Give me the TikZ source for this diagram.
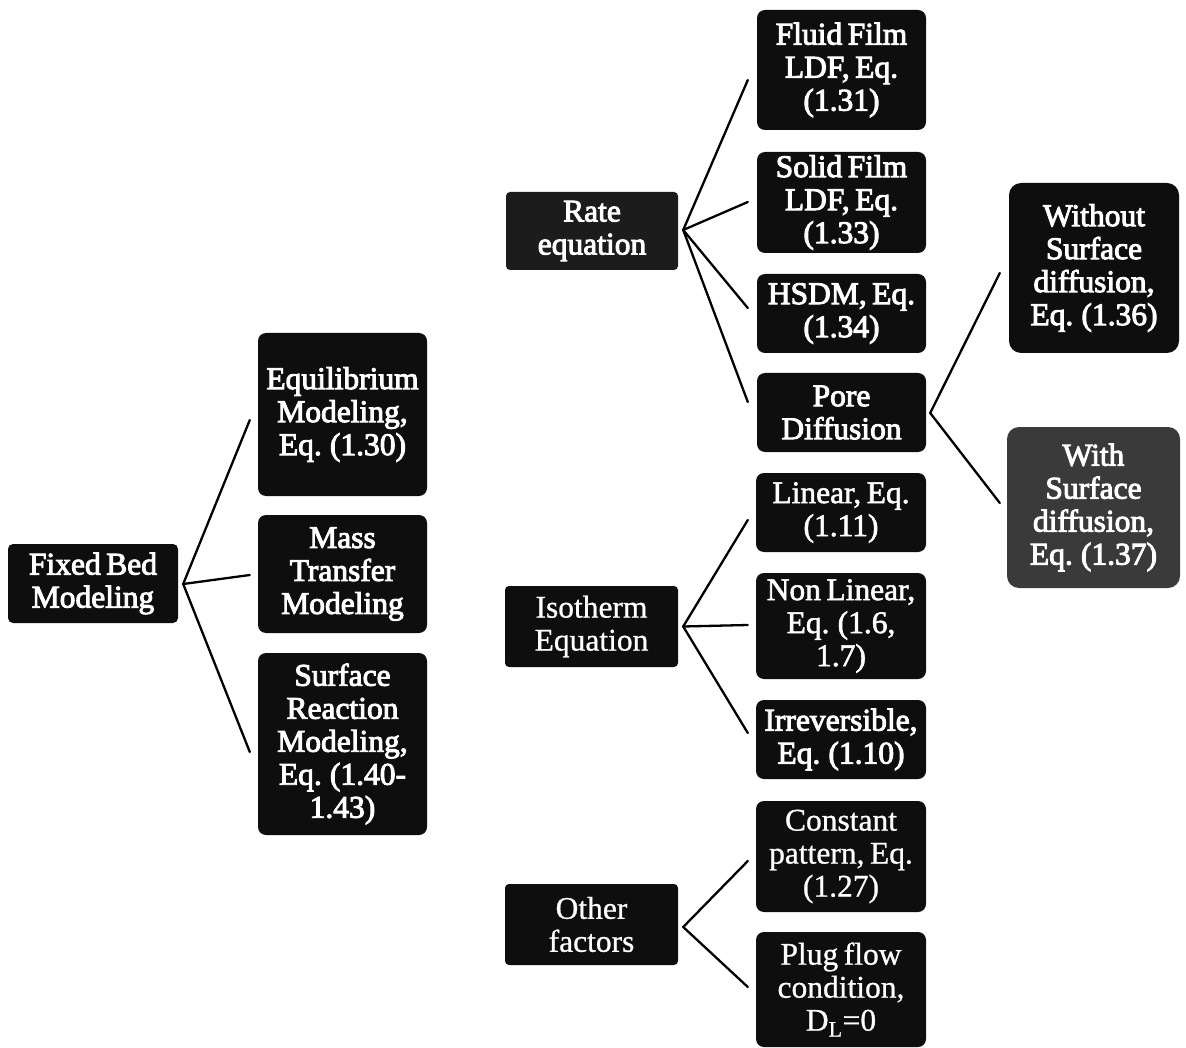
\documentclass[tikz,border=0pt]{standalone}
\usepackage{fontspec}
\setmainfont[WordSpace=0.7,FakeBold=0.8]{Liberation Serif}
\newfontfamily\heavy[WordSpace=0.7,FakeBold=3]{Liberation Serif}
\newfontfamily\medium[WordSpace=0.7,FakeBold=1.8]{Liberation Serif}
\usetikzlibrary{calc}
\definecolor{boxblack}{HTML}{0E0E0E}
\definecolor{boxrate}{HTML}{1C1C1C}
\definecolor{boxgrey}{HTML}{3A3A3A}
\tikzset{
  box/.style={fill=boxblack, text=white, align=center, inner sep=0pt,
    rounded corners=8pt, font=\fontsize{31.5}{33}\selectfont},
  sqbox/.style={box, rounded corners=4pt},
  link/.style={draw=black, line width=2.3pt, line cap=round},
}
\begin{document}
\begin{tikzpicture}[x=1pt,y=-1pt]
\useasboundingbox (0,0) rectangle (1186,1048);
% left column
\node[box, rounded corners=5pt, minimum width=170pt, minimum height=79pt] (fixed) at (93,583.5) {\heavy Fixed Bed\\\heavy Modeling};
\node[box, minimum width=169pt, minimum height=163pt] (equil) at (342.5,414.5) {\heavy Equilibrium\\\heavy Modeling,\\\heavy Eq. (1.30)};
\node[box, minimum width=169pt, minimum height=118pt] (mass) at (342.5,574) {\heavy Mass\\\heavy Transfer\\\heavy Modeling};
\node[box, minimum width=169pt, minimum height=182pt] (surf) at (342.5,744) {\heavy Surface\\\heavy Reaction\\\heavy Modeling,\\\heavy Eq. (1.40-\\\heavy 1.43)};
% middle column
\node[sqbox, fill=boxrate, minimum width=172pt, minimum height=78pt] (rate) at (592,231) {\heavy Rate\\\heavy equation};
\node[sqbox, minimum width=173pt, minimum height=81pt] (iso) at (591.5,626.5) {Isotherm\\Equation};
\node[sqbox, minimum width=173pt, minimum height=81pt] (other) at (591.5,924.5) {Other\\factors};
% right column
\node[box, minimum width=169pt, minimum height=120pt] (fluid) at (841.5,70) {\heavy Fluid Film\\\heavy LDF, Eq.\\\heavy (1.31)};
\node[box, minimum width=169pt, minimum height=101pt] (solid) at (841.5,202.5) {\heavy Solid Film\\\heavy LDF, Eq.\\\heavy (1.33)};
\node[box, minimum width=169pt, minimum height=79pt] (hsdm) at (841.5,313.5) {\heavy HSDM, Eq.\\\heavy (1.34)};
\node[box, minimum width=169pt, minimum height=79pt] (pore) at (841.5,412.5) {\heavy Pore\\\heavy Diffusion};
\node[box, minimum width=170pt, minimum height=79pt] (linear) at (841,512.5) {\medium Linear, Eq.\\\medium (1.11)};
\node[box, minimum width=170pt, minimum height=106pt] (nonlin) at (841,626) {\medium Non Linear,\\\medium Eq. (1.6,\\\medium 1.7)};
\node[box, minimum width=170pt, minimum height=79pt] (irrev) at (841,739.5) {\heavy Irreversible,\\\heavy Eq. (1.10)};
\node[box, minimum width=170pt, minimum height=111pt] (const) at (841,856.5) {Constant\\pattern, Eq.\\(1.27)};
\node[box, minimum width=170pt, minimum height=115pt] (plug) at (841,989.5) {Plug flow\\condition,\\D\textsubscript{L}=0};
% far right
\node[box, rounded corners=12pt, minimum width=170pt, minimum height=170pt] (without) at (1094,268) {\heavy Without\\\heavy Surface\\\heavy diffusion,\\\heavy Eq. (1.36)};
\node[box, fill=boxgrey, rounded corners=12pt, minimum width=173pt, minimum height=161pt] (with) at (1093.5,507.5) {\heavy With\\\heavy Surface\\\heavy diffusion,\\\heavy Eq. (1.37)};
% connectors
\draw[link] ($(fixed.east)+(5,0.5)$) -- ($(equil.west)+(-8,5.5)$);
\draw[link] ($(fixed.east)+(5,0.5)$) -- ($(mass.west)+(-8,1)$);
\draw[link] ($(fixed.east)+(5,0.5)$) -- ($(surf.west)+(-8,8)$);
\draw[link] ($(rate.east)+(5,-1)$) -- ($(fluid.west)+(-9,10)$);
\draw[link] ($(rate.east)+(5,-1)$) -- ($(solid.west)+(-9,-0.5)$);
\draw[link] ($(rate.east)+(5,-1)$) -- ($(hsdm.west)+(-9,-5.5)$);
\draw[link] ($(rate.east)+(5,-1)$) -- ($(pore.west)+(-9,-10.5)$);
\draw[link] ($(pore.east)+(4,0.5)$) -- ($(without.west)+(-9,5)$);
\draw[link] ($(pore.east)+(4,0.5)$) -- ($(with.west)+(-7,-4.5)$);
\draw[link] ($(iso.east)+(5,0)$) -- ($(linear.west)+(-8,7.5)$);
\draw[link] ($(iso.east)+(5,0)$) -- ($(nonlin.west)+(-8,-1)$);
\draw[link] ($(iso.east)+(5,0)$) -- ($(irrev.west)+(-8,-6.5)$);
\draw[link] ($(other.east)+(5,2.5)$) -- ($(const.west)+(-8,4.5)$);
\draw[link] ($(other.east)+(5,2.5)$) -- ($(plug.west)+(-8,-2.5)$);
\end{tikzpicture}
\end{document}
